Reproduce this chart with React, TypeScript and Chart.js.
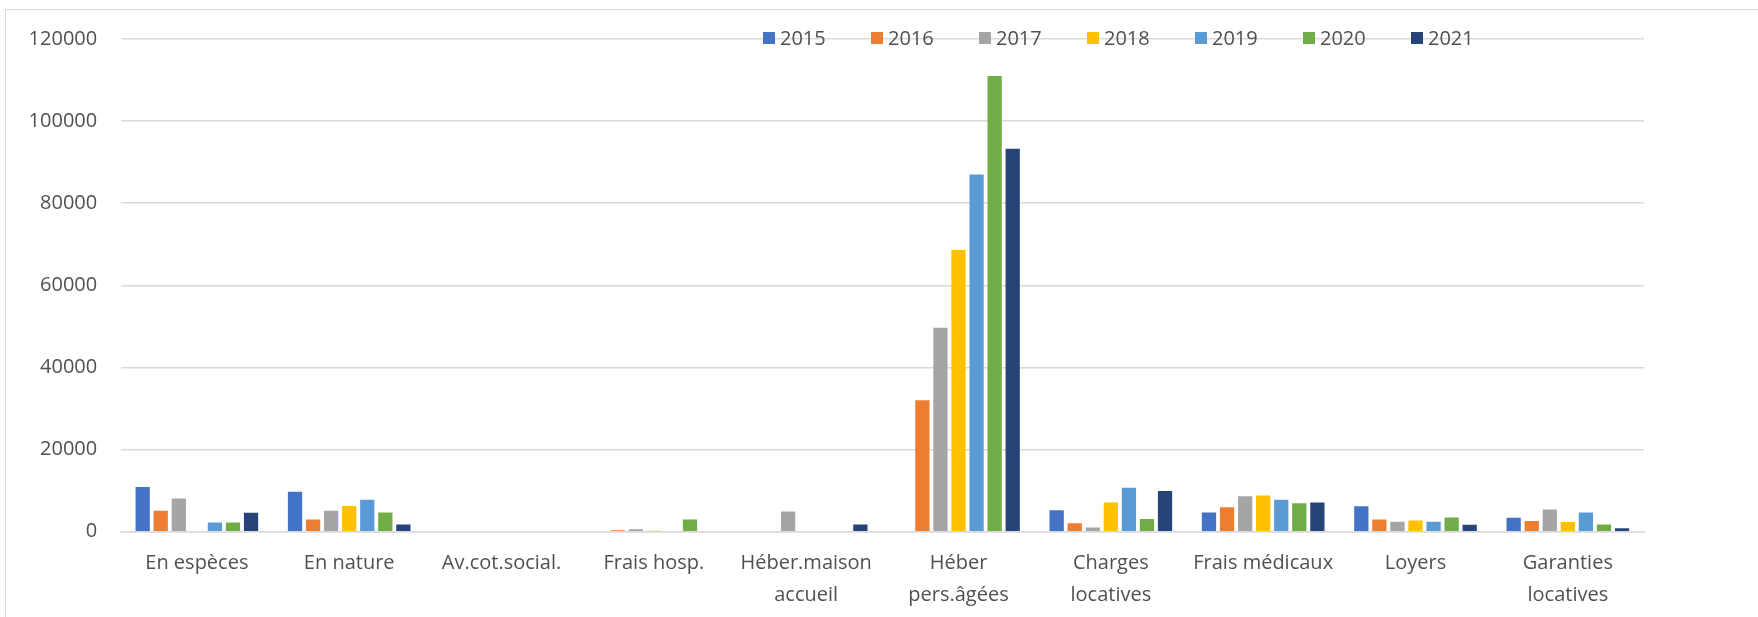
import React, { useEffect, useRef } from "react";
import { Chart, registerables } from "chart.js";

Chart.register(...registerables);

const categories: (string | string[])[] = [
  "En espèces",
  "En nature",
  "Av.cot.social.",
  "Frais hosp.",
  ["Héber.maison", "accueil"],
  ["Héber", "pers.âgées"],
  ["Charges", "locatives"],
  "Frais médicaux",
  "Loyers",
  ["Garanties", "locatives"],
];

const seriesNames = ["2015", "2016", "2017", "2018", "2019", "2020", "2021"];

const values2015 = [10900, 9750, 0, 0, 0, 0, 5200, 4650, 6200, 3400];
const values2016 = [5100, 2950, 0, 350, 0, 32000, 2050, 5950, 2950, 2600];
const values2017 = [8100, 5100, 0, 600, 4900, 49700, 1050, 8650, 2450, 5400];
const values2018 = [0, 6250, 0, 250, 0, 68600, 7100, 8800, 2700, 2350];
const values2019 = [2250, 7800, 0, 0, 0, 87000, 10700, 7800, 2450, 4700];
const values2020 = [2250, 4650, 0, 3000, 0, 111000, 3100, 6900, 3450, 1750];
const values2021 = [4600, 1750, 0, 0, 1750, 93300, 9900, 7100, 1700, 850];

const yTicks = [0, 20000, 40000, 60000, 80000, 100000, 120000];

const seriesColors = ["#4472C4", "#ED7D31", "#A5A5A5", "#FFC000", "#5B9BD5", "#70AD47", "#264478"];

const allValues = [values2015, values2016, values2017, values2018, values2019, values2020, values2021];

const FONT = '"Open Sans", "Liberation Sans", sans-serif';
const TEXT = "#505050";
const GRID = "#d9d9d9";

const frameAndLegend = {
  id: "frameAndLegend",
  beforeDraw(chart: any) {
    const ctx = chart.ctx;
    ctx.save();
    ctx.strokeStyle = GRID;
    ctx.lineWidth = 1;
    ctx.strokeRect(5.5, 9.5, 4000, 4000);
    ctx.restore();
  },
  afterDraw(chart: any) {
    const ctx = chart.ctx;
    ctx.save();
    ctx.font = `20px ${FONT}`;
    ctx.textBaseline = "middle";
    ctx.textAlign = "left";
    const startX = 763;
    const pitch = 108;
    const cy = 38;
    const box = 12;
    chart.data.datasets.forEach((ds: any, i: number) => {
      const x = startX + i * pitch;
      ctx.fillStyle = ds.backgroundColor;
      ctx.fillRect(x, cy - box / 2, box, box);
      ctx.fillStyle = TEXT;
      ctx.fillText(ds.label, x + box + 5, cy + 1);
    });
    ctx.restore();
  },
};

export default function App() {
  const ref = useRef<HTMLCanvasElement | null>(null);

  useEffect(() => {
    if (!ref.current) return;
    const chart = new Chart(ref.current, {
      type: "bar",
      data: {
        labels: categories,
        datasets: seriesNames.map((name, i) => ({
          label: name,
          data: allValues[i],
          backgroundColor: seriesColors[i],
          borderWidth: 0,
          categoryPercentage: 0.83,
          barPercentage: 0.79,
        })),
      },
      options: {
        responsive: false,
        animation: false,
        layout: { padding: { top: 39, right: 114, left: 0, bottom: 0 } },
        plugins: {
          legend: { display: false },
          tooltip: { enabled: false },
        },
        scales: {
          x: {
            grid: { display: false, drawTicks: false },
            border: { display: true, color: GRID, width: 1.5 },
            ticks: {
              color: TEXT,
              font: { family: FONT, size: 20, lineHeight: 1.58 },
              padding: 16,
              maxRotation: 0,
              autoSkip: false,
            },
            afterFit: (s: any) => {
              s.height = 85.3;
            },
          },
          y: {
            min: 0,
            max: 120000,
            afterBuildTicks: (s: any) => {
              s.ticks = yTicks.map((v) => ({ value: v }));
            },
            grid: { color: GRID, lineWidth: 1.5, drawTicks: false },
            border: { display: false },
            ticks: {
              color: TEXT,
              font: { family: FONT, size: 20 },
              padding: 23.5,
              callback: (v: any) => String(v),
            },
            afterFit: (s: any) => {
              s.width = 120.7;
            },
          },
        },
      },
      plugins: [frameAndLegend],
    });
    return () => chart.destroy();
  }, []);

  return (
    <div style={{ position: "fixed", left: 0, top: 0, width: 1758, height: 617, background: "#fff" }}>
      <canvas ref={ref} width={1758} height={617} style={{ display: "block" }} />
    </div>
  );
}
